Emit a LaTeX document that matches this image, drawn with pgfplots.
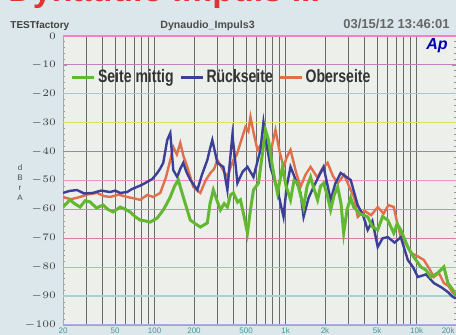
\documentclass[border=0pt]{standalone}
\usepackage{fontspec}
\setmainfont{Liberation Sans}
\newfontfamily\legfont[FakeStretch=0.78]{Liberation Sans}
\usepackage{pgfplots}
\pgfplotsset{compat=1.18}
\definecolor{bgc}{HTML}{DCE7EB}
\definecolor{plotbg}{HTML}{EDEFEB}
\definecolor{gridgray}{HTML}{6A6A6A}
\definecolor{cgreen}{HTML}{62B830}
\definecolor{cblue}{HTML}{3B3F98}
\definecolor{corange}{HTML}{E0704C}
\definecolor{ctitle}{HTML}{E03434}
\definecolor{cticks}{HTML}{3E9A9E}
\begin{document}
\begin{tikzpicture}
\useasboundingbox (0,0) rectangle (228pt,167.5pt);
\fill[bgc] (0,0) rectangle (228pt,167.5pt);
% title (partly cut at top)
\node[anchor=base west, inner sep=0pt, text=ctitle, font=\fontsize{17}{17}\selectfont\bfseries] at (4pt,166.5pt) {Dynaudio Impuls III};
% header line
\node[anchor=base west, inner sep=0pt, text=black!75, font=\fontsize{5}{5}\selectfont\bfseries] at (5pt,153pt) {TESTfactory};
\node[anchor=base west, inner sep=0pt, text=black!70, font=\fontsize{5.3}{5.3}\selectfont\bfseries] at (80pt,153pt) {Dynaudio\_Impuls3};
\node[anchor=base west, inner sep=0pt, text=black!60, font=\fontsize{6.5}{6.5}\selectfont\bfseries] at (171.5pt,153pt) {03/15/12 13:46:01};
% y label (stacked)
\node[align=center, inner sep=0pt, text=black!70, font=\fontsize{4}{5}\selectfont] at (10pt,76pt) {d\\B\\r\\A};
\begin{axis}[
  at={(31.5pt,5pt)}, anchor=south west, scale only axis,
  width=196.5pt, height=144.5pt,
  xmode=log, xmin=20, xmax=20000, ymin=-100, ymax=0,
  axis background/.style={fill=plotbg},
  axis line style={draw=gridgray!60, line width=0.4pt},
  xtick={20,30,40,50,60,70,80,90,100,200,300,400,500,600,700,800,900,1000,2000,3000,4000,5000,6000,7000,8000,9000,10000,20000},
  xticklabels={20,,,50,,,,,100,200,,,500,,,,,1k,2k,,,5k,,,,,10k,\makebox[0pt][r]{20k\,}},
  xmajorgrids, major x grid style={draw=gridgray, line width=0.45pt},
  xtick style={draw=none},
  xticklabel style={font=\fontsize{4}{4}\selectfont, text=cticks, yshift=2pt},
  ytick={0,-10,-20,-30,-40,-50,-60,-70,-80,-90,-100},
  minor y tick num=4,
  ytick style={draw=gridgray!70, line width=0.3pt},
  major tick length=2pt, minor tick length=1.2pt,
  yticklabel style={font=\fontsize{4.5}{4.5}\selectfont, text=black!75},
  legend columns=3,
  legend style={draw=none, fill=none, at={(0.02,0.855)}, anchor=west,
    inner sep=0pt, outer sep=0pt,
    font=\legfont\fontsize{9}{9}\selectfont\bfseries, text=black!80,
    nodes={inner sep=1pt},
    /tikz/every even column/.append style={column sep=2pt}},
  legend image code/.code={\draw[#1] (0pt,0pt) -- (11pt,0pt);},
  clip=true,
]
% coloured horizontal grid lines
\draw[color=violet!50, line width=0.6pt] (axis cs:20,-10) -- (axis cs:20000,-10);
\draw[color=cyan!35!gray!60, line width=0.6pt] (axis cs:20,-20) -- (axis cs:20000,-20);
\draw[color=yellow!70!gray!80, line width=0.6pt] (axis cs:20,-30) -- (axis cs:20000,-30);
\draw[color=violet!55, line width=0.6pt] (axis cs:20,-40) -- (axis cs:20000,-40);
\draw[color=magenta!45, line width=0.6pt] (axis cs:20,-50) -- (axis cs:20000,-50);
\draw[color=violet!45, line width=0.6pt] (axis cs:20,-60) -- (axis cs:20000,-60);
\draw[color=magenta!50!violet!60, line width=0.6pt] (axis cs:20,-70) -- (axis cs:20000,-70);
\draw[color=orange!45!pink, line width=0.6pt] (axis cs:20,-80) -- (axis cs:20000,-80);
\draw[color=teal!35, line width=0.6pt] (axis cs:20,-90) -- (axis cs:20000,-90);
\draw[color=magenta!50, line width=0.8pt] (axis cs:20,0) -- (axis cs:20000,0);
\draw[color=magenta!40!cyan!60, line width=0.8pt] (axis cs:20,-100) -- (axis cs:20000,-100);

\addlegendimage{color=cgreen, line width=1.6pt}
\addlegendentry{Seite mittig}
\addlegendimage{color=cblue, line width=1.4pt}
\addlegendentry{Rückseite}
\addlegendimage{color=corange, line width=1.4pt}
\addlegendentry{Oberseite}

% Oberseite
\addplot[color=corange, line width=1.2pt, forget plot] coordinates {
(20,-55.7) (23,-56.5) (27,-55.7) (31,-54.8) (36.4,-54.3) (41,-55.4) (45.8,-55.7)
(53,-54.9) (61.8,-55.7) (70,-56.2) (77.6,-56.7) (88,-55.0) (97.6,-55.7)
(110.5,-54.3) (122,-49.0) (131.8,-42.9) (138.9,-38.4) (148,-41.0) (157.1,-37.0)
(166,-41.5) (177.8,-45.3) (197.5,-52.2) (223.5,-54.3) (245,-50.0) (266.6,-47.4)
(285,-46.0) (301.6,-42.9) (330,-46.0) (359.6,-48.8) (380,-45.5) (399.8,-42.9)
(425,-41.0) (452.2,-37.0) (494,-31.5) (520,-33.0) (539.4,-28.0) (570,-33.5)
(610.2,-39.4) (640,-38.0) (678.1,-36.0) (720,-39.0) (767,-40.5) (800,-36.5)
(837.5,-32.5) (900,-40.0) (964.4,-45.3) (1020,-42.0) (1091,-39.4) (1200,-47.0)
(1301,-52.2) (1420,-48.0) (1552,-45.3) (1750,-49.0) (1900,-46.0) (2094,-43.9)
(2300,-48.5) (2498,-50.9) (2800,-48.0) (3140,-53.3) (3350,-56.0) (3551,-62.6)
(4000,-60.5) (4500,-62.0) (5052,-59.2) (5600,-61.5) (6100,-58.5) (6698,-59.2)
(7100,-64.5) (7576,-69.6) (8300,-72.0) (9036,-75.1) (10000,-76.0) (11362,-77.5)
(12500,-80.5) (13550,-83.4) (14800,-82.0) (16164,-85.5) (17500,-86.5) (18940,-88.9) (20000,-89.8)
};
% Rückseite
\addplot[color=cblue, line width=1.2pt, forget plot] coordinates {
(20,-54.3) (22.5,-53.6) (25.6,-53.3) (29,-54.5) (33.9,-54.3) (39,-53.5) (45.8,-54.0)
(50,-53.5) (54.6,-54.3) (61.8,-54.0) (67,-53.0) (73.7,-52.2) (80,-51.5) (87.8,-50.5)
(96,-49.5) (104.8,-47.4) (110,-46.0) (116.5,-43.9) (124.9,-36.0) (131.8,-33.6)
(138.9,-46.4) (149,-48.8) (157,-46.0) (165.6,-43.9) (175,-47.0) (187.4,-49.8)
(212,-53.3) (230,-48.0) (252.8,-42.9) (265,-39.0) (276,-36.0) (301.6,-43.9)
(335.2,-45.3) (359.6,-53.3) (375,-44.0) (392.8,-34.3) (410,-42.0) (429,-50.9)
(470,-47.0) (511.7,-45.3) (568.6,-48.8) (643.2,-39.4) (678.1,-29.8) (720,-38.0)
(767,-45.3) (867.6,-53.3) (964.4,-62.6) (1020,-52.0) (1091,-45.3) (1200,-50.0)
(1301,-54.3) (1372,-62.6) (1500,-56.0) (1636,-52.2) (1951,-45.3) (2208,-56.7)
(2400,-51.0) (2633,-47.4) (3140,-49.8) (3551,-58.5) (3900,-62.0) (4236,-67.1)
(4600,-64.0) (5052,-73.0) (5500,-70.0) (6026,-69.6) (6800,-71.5) (7576,-69.6)
(8570,-77.5) (9400,-80.0) (10218,-83.4) (11800,-82.5) (13550,-85.5) (15500,-87.0)
(17344,-88.6) (18940,-90.3) (20000,-90.8)
};
% Seite mittig
\addplot[color=cgreen, line width=1.5pt, forget plot] coordinates {
(20,-59.2) (22.6,-56.7) (24.5,-58.0) (27.0,-59.2) (29.5,-57.0) (32.2,-57.4)
(36,-59.5) (40.5,-58.5) (44,-60.0) (48.3,-60.9) (54.6,-59.2) (60,-60.0) (65.1,-60.9)
(71,-62.5) (77.6,-63.7) (85,-64.0) (92.6,-64.4) (104.8,-63.0) (116.5,-60.2)
(124,-58.0) (131.8,-55.7) (142,-52.0) (151.7,-49.8) (165.6,-55.7) (187.4,-63.7)
(205,-65.0) (223.5,-66.1) (252.8,-64.7) (265,-58.0) (280.9,-53.3) (300,-57.0)
(318,-60.2) (340,-58.0) (359.6,-59.2) (380,-55.0) (399.8,-54.3) (430,-57.5)
(452.2,-56.7) (480,-62.0) (511.7,-68.2) (540,-60.0) (568.6,-53.3) (621,-50.9)
(660,-42.0) (702.4,-32.5) (740.5,-36.0) (794.4,-45.3) (830,-50.0) (867.6,-54.3)
(947.6,-45.3) (1010,-52.0) (1091,-56.7) (1160,-50.0) (1234,-50.9) (1300,-55.0)
(1372,-59.2) (1460,-52.0) (1552,-48.8) (1650,-53.0) (1756,-56.7) (1850,-52.0)
(1951,-50.9) (2080,-55.0) (2208,-60.2) (2350,-55.0) (2498,-52.2) (2650,-58.0)
(2776,-68.2) (2950,-60.0) (3140,-56.0) (3310,-59.2) (3700,-61.5) (4236,-62.6)
(4600,-66.0) (5052,-67.1) (5500,-62.5) (6026,-63.7) (6698,-68.2) (7100,-65.0)
(7576,-67.1) (8570,-73.0) (9528,-76.5) (10778,-79.9) (11800,-81.0) (12854,-83.4)
(14500,-82.0) (16164,-79.9) (17344,-85.5) (18940,-87.9) (20000,-89.6)
};
\end{axis}
% Ap logo
\node[text=blue!70!black, font=\fontsize{8}{8}\selectfont\bfseries\itshape, inner sep=0pt] at (218.5pt,144.5pt) {Ap};
\end{tikzpicture}
\end{document}
